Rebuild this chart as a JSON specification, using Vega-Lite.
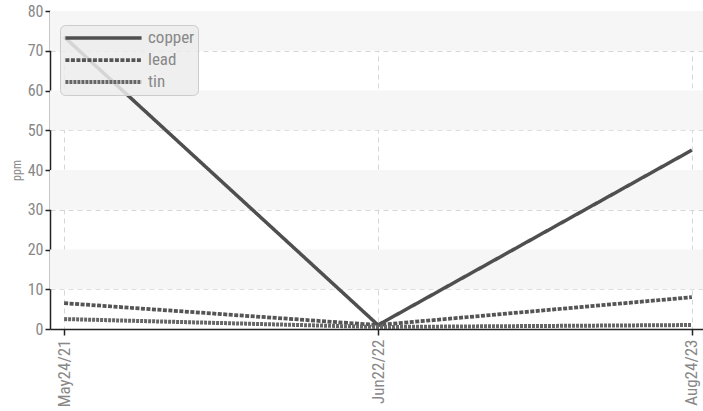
{
  "$schema": "https://vega.github.io/schema/vega-lite/v6.json",
  "width": 656,
  "height": 318,
  "autosize": {"type": "none"},
  "padding": {"left": 50, "top": 11, "right": 0, "bottom": 82},
  "background": "white",
  "config": {
    "view": {"stroke": null},
    "font": "Roboto Condensed, DejaVu Sans Condensed, Roboto, sans-serif"
  },
  "datasets": {
    "bands": [
      {"lo": 10, "hi": 20},
      {"lo": 30, "hi": 40},
      {"lo": 50, "hi": 60},
      {"lo": 70, "hi": 80}
    ],
    "readings": [
      {"date": "May24/21", "element": "copper", "ppm": 73.5},
      {"date": "Jun22/22", "element": "copper", "ppm": 1},
      {"date": "Aug24/23", "element": "copper", "ppm": 45},
      {"date": "May24/21", "element": "lead", "ppm": 6.5},
      {"date": "Jun22/22", "element": "lead", "ppm": 1},
      {"date": "Aug24/23", "element": "lead", "ppm": 8},
      {"date": "May24/21", "element": "tin", "ppm": 2.5},
      {"date": "Jun22/22", "element": "tin", "ppm": 0.5},
      {"date": "Aug24/23", "element": "tin", "ppm": 1}
    ]
  },
  "layer": [
    {
      "data": {"name": "bands"},
      "mark": {"type": "rect", "color": "#f6f6f6"},
      "encoding": {
        "y": {"field": "lo", "type": "quantitative", "scale": {"domain": [0, 80]}},
        "y2": {"field": "hi"}
      }
    },
    {
      "data": {"name": "readings"},
      "mark": {"type": "line"},
      "encoding": {
        "x": {
          "field": "date", "type": "ordinal", "sort": null,
          "scale": {"type": "point", "padding": 0.045},
          "axis": {
            "title": null, "labelAngle": -90, "labelColor": "#888", "labelFontSize": 17,
            "domainColor": "#222", "domainWidth": 1.5, "tickColor": "#222", "tickWidth": 1.5, "tickSize": 6,
            "grid": true, "gridColor": "#d6d6d6", "gridDash": [5, 4], "labelPadding": 4
          }
        },
        "y": {
          "field": "ppm", "type": "quantitative",
          "scale": {"domain": [0, 80]},
          "axis": {
            "title": "ppm", "titleColor": "#888", "titleFontSize": 12, "titleFontWeight": "normal",
            "labelColor": "#888", "labelFontSize": 16, "tickCount": 8,
            "domainColor": "#222", "domainWidth": 1.5, "tickColor": "#222", "tickWidth": 1.5, "tickSize": 5,
            "grid": true, "gridColor": "#d6d6d6", "gridDash": [5, 4], "labelPadding": 2, "titlePadding": 4
          }
        },
        "detail": {"field": "element"},
        "color": {
          "field": "element", "type": "nominal",
          "scale": {"domain": ["copper", "lead", "tin"], "range": ["#4f4f4f", "#555555", "#666666"]},
          "legend": {
            "title": null, "orient": "none", "legendX": 10, "legendY": 14,
            "symbolType": "stroke", "symbolSize": 5800, "symbolStrokeWidth": 4,
            "clipHeight": 20, "labelColor": "#888", "labelFontSize": 17, "rowPadding": 2, "labelOffset": 4,
            "fillColor": "rgba(236,236,236,0.85)", "strokeColor": "#cccccc", "cornerRadius": 5, "padding": 3
          }
        },
        "strokeDash": {
          "field": "element", "type": "nominal",
          "scale": {"domain": ["copper", "lead", "tin"], "range": [[1, 0], [4, 1.5], [3, 1]]},
          "legend": {
            "title": null, "orient": "none", "legendX": 10, "legendY": 14,
            "symbolType": "stroke", "symbolSize": 5800, "symbolStrokeWidth": 4,
            "clipHeight": 20, "labelColor": "#888", "labelFontSize": 17, "rowPadding": 2, "labelOffset": 4,
            "fillColor": "rgba(236,236,236,0.85)", "strokeColor": "#cccccc", "cornerRadius": 5, "padding": 3
          }
        },
        "strokeWidth": {
          "field": "element", "type": "nominal",
          "scale": {"domain": ["copper", "lead", "tin"], "range": [3.5, 4, 2]},
          "legend": null
        }
      }
    }
  ]
}
